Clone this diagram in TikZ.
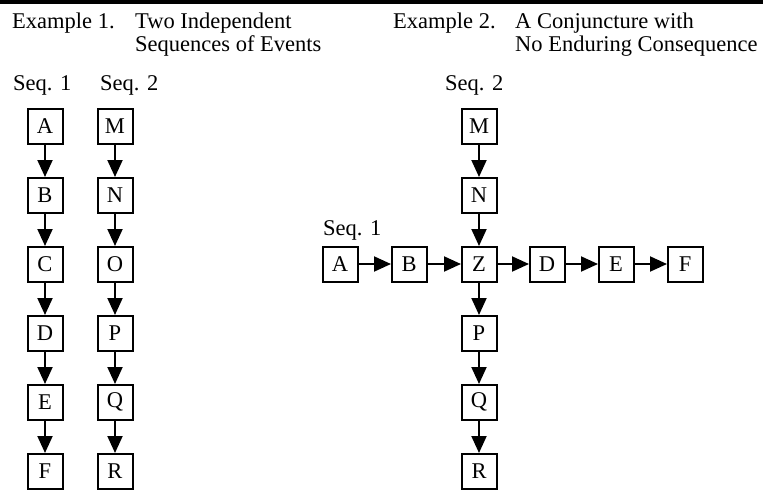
\documentclass[tikz,border=0pt]{standalone}
\usepackage{fontspec}
\setmainfont{Liberation Serif}
\usetikzlibrary{arrows.meta}
\begin{document}
\begin{tikzpicture}[x=1pt,y=-1pt,
  ev/.style={draw,line width=2pt,minimum width=35pt,minimum height=35pt,inner sep=0pt,font=\fontsize{22.5}{24}\selectfont},
  lbl/.style={anchor=base west,inner sep=0pt,font=\fontsize{22.5}{24}\selectfont},
  arr/.style={line width=2pt,-{Triangle[length=17pt,width=15pt]},shorten >=-0.5pt}]
\useasboundingbox (0,0) rectangle (763,490);
\fill (0,0) rectangle (763,4);
% headers
\node[lbl] (h1a) at (12,28) {Example 1.};
\node[lbl] (h1b) at (135,28) {Two Independent};
\node[lbl] (h1c) at (135,51) {Sequences of Events};
\node[lbl] (h2a) at (393,28) {Example 2.};
\node[lbl] (h2b) at (515,28) {A Conjuncture with};
\node[lbl] (h2c) at (515,51) {No Enduring Consequence};
\node[lbl] (s11) at (13,90) {Seq. 1};
\node[lbl] (s12) at (100,90) {Seq. 2};
\node[lbl] (s22) at (445,90) {Seq. 2};
\node[lbl] (s21) at (323,235) {Seq. 1};
% Example 1
\foreach \n/\y in {A/126,B/195,C/264,D/333,E/402,F/471}{\node[ev] (a\n) at (45,\y) {\n};}
\foreach \n/\y in {M/126,N/195,O/264,P/333,Q/402,R/471}{\node[ev] (b\n) at (115,\y) {\n};}
\foreach \p/\q in {A/B,B/C,C/D,D/E,E/F}{\draw[arr] (a\p) -- (a\q);}
\foreach \p/\q in {M/N,N/O,O/P,P/Q,Q/R}{\draw[arr] (b\p) -- (b\q);}
% Example 2
\foreach \n/\x in {A/340,B/409,Z/479,D/547,E/616,F/685}{\node[ev] (c\n) at (\x,264) {\n};}
\foreach \n/\y in {M/126,N/195,P/333,Q/402,R/471}{\node[ev] (d\n) at (479,\y) {\n};}
\foreach \p/\q in {A/B,B/Z,Z/D,D/E,E/F}{\draw[arr] (c\p) -- (c\q);}
\draw[arr] (dM) -- (dN);
\draw[arr] (dN) -- (cZ);
\draw[arr] (cZ) -- (dP);
\draw[arr] (dP) -- (dQ);
\draw[arr] (dQ) -- (dR);
\end{tikzpicture}
\end{document}
